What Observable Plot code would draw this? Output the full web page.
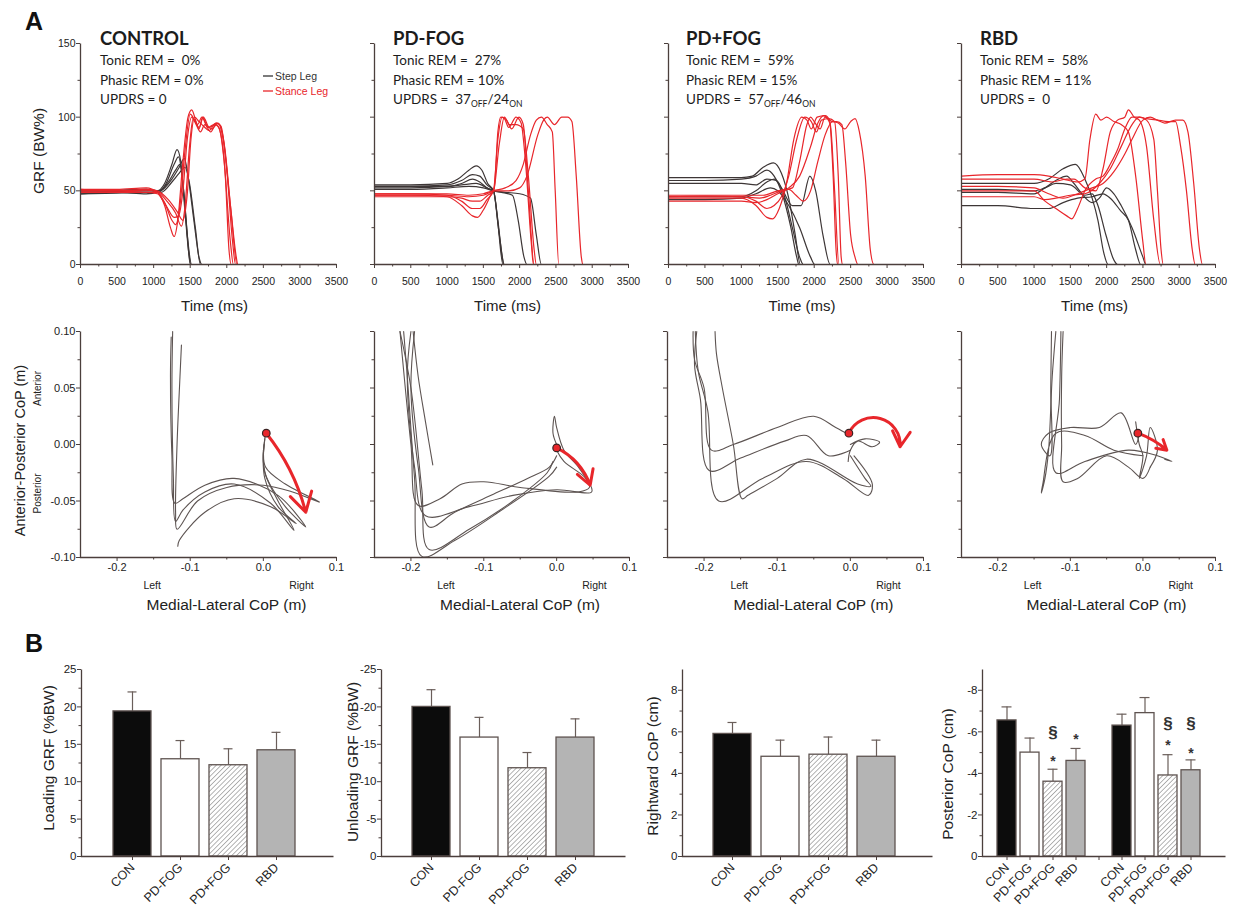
<!DOCTYPE html>
<html>
<head>
<meta charset="utf-8">
<script src="https://cdn.jsdelivr.net/npm/d3@7"></script>
<script src="https://cdn.jsdelivr.net/npm/@observablehq/plot@0.6"></script>
<style>
  body { margin: 0; background: #fff; }
  #fig { position: relative; width: 1236px; height: 913px; overflow: hidden; background: #fff; }
  #fig text, #fig tspan { white-space: pre; }
</style>
</head>
<body>
<svg width="0" height="0" style="position:absolute">
  <defs>
    <pattern id="hatch" patternUnits="userSpaceOnUse" width="3.4" height="3.4" patternTransform="rotate(45)">
      <rect width="3.4" height="3.4" fill="#ffffff"></rect>
      <line x1="0" y1="0" x2="0" y2="3.4" stroke="#6a6a6a" stroke-width="1"></line>
    </pattern>
  </defs>
</svg>
<div id="fig"></div>
<script>
// ---------- Panel A, top row: vertical ground reaction force traces (time ms, %BW) ----------
// each trace is a flat list of [t, value] pairs
const controlStep = [
  [0,49, 500,49.5, 900,50, 1050,50, 1150,55, 1250,68, 1320,78, 1370,70, 1430,35, 1480,8, 1510,0, 3500,0],
  [0,48, 500,48.5, 900,49, 1050,49, 1170,55, 1280,68, 1340,73, 1400,55, 1460,20, 1500,0, 3500,0],
  [0,50, 500,50, 900,51, 1080,50, 1200,56, 1300,64, 1360,68, 1420,45, 1470,15, 1520,0, 3500,0],
  [0,48, 500,49, 900,48, 1100,50, 1250,58, 1350,66, 1420,72, 1470,60, 1550,30, 1620,5, 1660,0, 3500,0],
  [0,50, 500,50.5, 900,51, 1100,49, 1250,56, 1350,62, 1430,66, 1490,55, 1570,25, 1640,0, 3500,0]
];
const controlStance = [
  [0,51, 500,51, 900,52, 1050,49, 1150,40, 1230,25, 1280,19, 1330,30, 1400,70, 1470,100, 1520,105, 1580,97, 1620,92, 1670,100, 1720,95, 1800,92, 1860,95, 1920,88, 1980,60, 2030,10, 2060,0, 3500,0],
  [0,50, 500,50, 900,50.5, 1050,49, 1150,42, 1250,30, 1300,27, 1360,40, 1430,78, 1500,102, 1560,98, 1620,93, 1680,100, 1760,93, 1840,95, 1900,92, 1960,72, 2050,15, 2090,0, 3500,0],
  [0,49, 500,49, 900,49, 1050,48, 1170,40, 1280,32, 1340,33, 1400,50, 1460,85, 1520,100, 1580,95, 1640,90, 1700,95, 1780,90, 1860,96, 1920,94, 1990,70, 2080,15, 2120,0, 3500,0],
  [0,50, 500,50, 900,49, 1050,49, 1180,43, 1300,35, 1380,26, 1430,40, 1490,80, 1540,99, 1600,95, 1660,100, 1740,93, 1820,95, 1880,96, 1950,85, 2050,40, 2130,5, 2150,0, 3500,0],
  [0,51, 500,50, 900,51, 1050,50, 1200,44, 1320,36, 1400,30, 1460,48, 1510,85, 1560,100, 1620,97, 1680,94, 1760,91, 1850,96, 1900,95, 1970,80, 2060,35, 2140,0, 3500,0]
];
const pdNoFogStep = [
  [0,54, 500,54, 1000,55, 1150,58, 1300,64, 1400,67, 1480,64, 1560,55, 1640,50, 1700,30, 1760,5, 1780,0, 3500,0],
  [0,53, 500,53, 1000,54, 1200,57, 1350,61, 1450,60, 1550,54, 1640,50, 1700,28, 1770,0, 3500,0],
  [0,52, 500,52, 1000,53, 1200,55, 1350,58, 1450,56, 1550,52, 1640,50, 1720,20, 1790,0, 3500,0],
  [0,53, 500,53, 1000,53, 1200,54, 1400,55, 1550,52, 1640,50, 1750,49, 1900,47, 1980,30, 2060,5, 2100,0, 3500,0],
  [0,51, 500,51, 1000,52, 1300,53, 1500,52, 1640,50, 1800,49, 2000,48, 2150,45, 2230,20, 2300,0, 3500,0]
];
const pdNoFogStance = [
  [0,47, 500,47, 1000,46, 1200,40, 1350,33, 1420,32, 1500,37, 1600,47, 1650,52, 1700,90, 1740,100, 1790,99, 1850,93, 1950,100, 2020,96, 2080,70, 2160,15, 2190,0, 3500,0],
  [0,48, 500,48, 1000,47, 1200,43, 1350,38, 1450,38, 1550,44, 1640,50, 1700,85, 1760,100, 1820,98, 1890,92, 1990,100, 2050,95, 2120,50, 2200,0, 3500,0],
  [0,46, 500,46, 1000,46, 1200,45, 1350,43, 1450,43, 1560,47, 1640,50, 1720,82, 1790,100, 1860,95, 1950,95, 2050,92, 2120,60, 2200,10, 2230,0, 3500,0],
  [0,47, 500,47, 1000,47, 1300,46, 1500,47, 1640,50, 1800,52, 1950,57, 2050,68, 2150,88, 2230,98, 2300,100, 2380,95, 2450,90, 2490,50, 2540,0, 3500,0],
  [0,48, 500,48, 1000,48, 1300,47, 1500,48, 1640,50, 1850,50, 2000,52, 2100,60, 2250,88, 2330,98, 2380,100, 2480,95, 2580,100, 2660,100, 2720,97, 2780,60, 2850,5, 2870,0, 3500,0]
];
const pdFogStep = [
  [0,59, 500,59, 1000,59, 1150,60, 1300,66, 1440,69, 1550,62, 1650,45, 1740,20, 1810,0, 3500,0],
  [0,57, 500,57, 1000,58, 1200,60, 1350,64, 1450,60, 1560,48, 1680,25, 1760,5, 1790,0, 3500,0],
  [0,55, 500,55, 1000,55, 1200,54, 1350,58, 1480,57, 1600,45, 1700,25, 1800,5, 1850,0, 3500,0],
  [0,46, 500,46, 1000,46, 1200,50, 1350,56, 1450,58, 1550,52, 1700,40, 1820,40, 1940,60, 2020,50, 2120,20, 2220,0, 3500,0],
  [0,44, 500,44, 1000,45, 1200,48, 1400,52, 1500,50, 1650,40, 1800,25, 1950,5, 2010,0, 3500,0]
];
const pdFogStance = [
  [0,45, 500,45, 1000,45, 1200,40, 1350,32, 1430,31, 1520,38, 1620,55, 1720,85, 1830,100, 1900,98, 1960,92, 2040,100, 2150,101, 2210,98, 2260,60, 2300,10, 2320,0, 3500,0],
  [0,46, 500,46, 1000,46, 1200,43, 1350,38, 1450,40, 1550,46, 1650,60, 1760,85, 1870,100, 1960,97, 2030,90, 2100,98, 2200,99, 2280,97, 2330,60, 2370,5, 2390,0, 3500,0],
  [0,43, 500,43, 1000,43, 1200,42, 1350,44, 1500,48, 1650,52, 1800,60, 1950,80, 2050,96, 2130,101, 2250,97, 2310,97, 2380,95, 2430,70, 2500,20, 2560,5, 2600,0, 3500,0],
  [0,47, 500,47, 1000,47, 1300,47, 1500,50, 1650,51, 1750,47, 1850,43, 1950,50, 2050,70, 2150,88, 2250,97, 2330,96, 2420,92, 2500,97, 2560,99, 2620,90, 2700,60, 2770,10, 2820,0, 3500,0],
  [0,46, 500,46.5, 1000,46, 1250,45, 1400,47, 1550,50, 1700,52, 1800,70, 1900,95, 1950,100, 2000,97, 2080,92, 2150,100, 2220,95, 2280,50, 2340,0, 3500,0]
];
const rbdStep = [
  [0,55, 500,55, 1000,55, 1200,58, 1400,65, 1570,68, 1700,58, 1800,45, 1880,30, 1960,8, 2020,0, 3500,0],
  [0,49, 500,49, 1000,48, 1150,52, 1300,57, 1450,60, 1550,55, 1700,47, 1800,48, 1880,40, 1990,20, 2100,3, 2150,0, 3500,0],
  [0,40, 500,40, 1000,38, 1200,38, 1400,42, 1600,45, 1800,46, 1950,48, 2050,45, 2200,36, 2300,30, 2400,10, 2470,0, 3500,0],
  [0,51, 500,51, 1000,50, 1150,52, 1300,55, 1500,54, 1650,48, 1800,42, 1900,45, 2000,52, 2100,48, 2200,40, 2350,25, 2500,5, 2540,0, 3500,0]
];
const rbdStance = [
  [0,60, 500,61, 1000,61, 1200,60, 1400,58, 1600,56, 1700,58, 1770,85, 1850,102, 1920,98, 2000,100, 2100,97, 2200,95, 2300,90, 2400,60, 2500,15, 2540,0, 3500,0],
  [0,58, 500,58, 1000,58, 1250,56, 1450,58, 1550,58, 1700,52, 1850,50, 1950,65, 2050,90, 2150,98, 2250,100, 2300,105, 2380,100, 2450,98, 2550,80, 2650,30, 2740,0, 3500,0],
  [0,50, 500,50, 1000,50, 1150,43, 1300,38, 1450,33, 1520,31, 1600,38, 1700,50, 1850,58, 1950,60, 2050,68, 2150,78, 2250,92, 2350,100, 2450,100, 2550,98, 2650,85, 2700,50, 2750,10, 2780,0, 3500,0],
  [0,46, 500,46, 1000,46, 1150,44, 1300,45, 1500,47, 1700,48, 1900,55, 2050,65, 2200,80, 2350,95, 2450,100, 2550,99, 2700,98, 2850,97, 2950,97, 3020,80, 3100,50, 3180,10, 3220,0, 3500,0],
  [0,53, 500,53, 1000,52, 1200,48, 1400,45, 1600,48, 1800,52, 1950,55, 2100,63, 2250,75, 2350,85, 2500,98, 2600,100, 2700,98, 2800,96, 2950,98, 3050,98, 3120,90, 3200,55, 3280,10, 3320,0, 3500,0]
];

// ---------- Panel A, middle row: centre-of-pressure paths (medial-lateral m, anterior-posterior m) ----------
const controlCop = [
  [0.003,0.010, 0.000,-0.010, 0.002,-0.025, 0.020,-0.050, 0.042,-0.076, 0.010,-0.052, -0.040,-0.035, -0.080,-0.042, -0.110,-0.058, -0.120,-0.068, -0.123,-0.030, -0.125,0.050, -0.124,0.100],
  [0.002,0.005, 0.000,-0.015, 0.005,-0.030, 0.030,-0.055, 0.058,-0.073, 0.020,-0.045, -0.040,-0.030, -0.080,-0.036, -0.110,-0.048, -0.121,-0.052, -0.125,-0.010, -0.127,0.060, -0.126,0.095],
  [0.001,0.000, 0.003,-0.020, 0.030,-0.035, 0.077,-0.051, 0.040,-0.042, 0.000,-0.036, -0.050,-0.038, -0.090,-0.050, -0.118,-0.075, -0.120,-0.060, -0.118,0.000, -0.114,0.060, -0.112,0.088],
  [0.000,-0.005, 0.002,-0.030, 0.020,-0.055, 0.045,-0.070, 0.010,-0.055, -0.040,-0.048, -0.080,-0.060, -0.115,-0.085, -0.117,-0.090]
];
const pdNoFogCop = [
  [0.000,0.000, -0.005,0.010, -0.003,0.025, 0.000,0.015, 0.010,-0.005, 0.030,-0.020, 0.045,-0.038, 0.030,-0.042, -0.050,-0.038, -0.100,-0.033, -0.130,-0.035, -0.160,-0.048, -0.190,-0.054, -0.200,0.000, -0.215,0.100],
  [0.000,-0.005, 0.010,-0.015, 0.040,-0.030, 0.048,-0.042, 0.000,-0.040, -0.060,-0.045, -0.120,-0.055, -0.180,-0.063, -0.195,-0.020, -0.205,0.060, -0.200,0.100],
  [0.000,-0.010, -0.010,-0.020, -0.040,-0.030, -0.090,-0.045, -0.140,-0.060, -0.175,-0.073, -0.190,-0.020, -0.200,0.050, -0.195,0.100],
  [-0.005,-0.015, -0.013,-0.025, -0.060,-0.050, -0.120,-0.075, -0.175,-0.093, -0.185,-0.040, -0.200,0.050, -0.215,0.100],
  [0.000,-0.020, -0.010,-0.028, -0.080,-0.060, -0.140,-0.085, -0.185,-0.099, -0.195,-0.030, -0.205,0.060, -0.210,0.100],
  [-0.197,0.100, -0.190,0.060, -0.180,0.020, -0.170,-0.018]
];
const pdFogCop = [
  [0.000,0.008, -0.020,0.015, -0.050,0.025, -0.100,0.015, -0.160,0.000, -0.190,-0.005, -0.200,0.050, -0.213,0.075, -0.215,0.100],
  [0.000,-0.005, -0.030,-0.010, -0.060,0.008, -0.090,0.003, -0.150,-0.012, -0.193,-0.023, -0.205,0.040, -0.213,0.070, -0.210,0.100],
  [0.005,-0.010, 0.030,-0.035, 0.025,-0.045, -0.010,-0.030, -0.060,-0.015, -0.120,-0.030, -0.180,-0.050, -0.195,0.030, -0.208,0.065, -0.212,0.100],
  [0.000,-0.010, 0.020,-0.030, 0.028,-0.037, 0.010,-0.035, -0.060,-0.013, -0.100,-0.030, -0.140,-0.045, -0.148,-0.048, -0.160,0.000, -0.175,0.050, -0.183,0.080, -0.185,0.100],
  [0.000,0.000, 0.020,0.005, 0.040,0.002, 0.030,-0.002, 0.010,0.003, 0.000,-0.005, -0.003,-0.015]
];
const rbdCop = [
  [-0.005,0.010, -0.010,0.000, -0.030,0.028, -0.060,0.015, -0.100,0.015, -0.130,0.010, -0.140,0.000, -0.128,-0.010, -0.127,0.050, -0.126,0.100],
  [0.000,-0.010, -0.040,-0.005, -0.080,0.008, -0.120,0.010, -0.138,-0.035, -0.140,-0.043, -0.135,-0.030, -0.130,-0.005, -0.125,0.060, -0.120,0.100],
  [0.010,-0.020, 0.000,-0.030, -0.020,-0.020, -0.050,-0.010, -0.090,-0.030, -0.110,-0.033, -0.112,0.000, -0.112,0.060, -0.110,0.100],
  [0.030,-0.013, 0.040,-0.015, 0.020,-0.010, -0.020,-0.005, -0.080,-0.015, -0.120,-0.025, -0.115,0.040, -0.113,0.100],
  [-0.010,0.020, -0.005,0.000, 0.000,-0.010, -0.005,-0.030, 0.005,-0.010, 0.010,0.015, 0.020,-0.005, 0.010,-0.020]
];
// initial CoP position and the direction of the first CoP shift
const copStart = [[0.004,0.010],[0.000,-0.003],[-0.002,0.010],[-0.007,0.010]];
const copShiftEnd = [[0.058,-0.060],[0.046,-0.036],[0.068,-0.002],[0.033,-0.005]];
const copShiftBend = [12, 22, 80, 10];

// ---------- Panel annotations ----------
const groupTitles = ["CONTROL", "PD-FOG", "PD+FOG", "RBD"];
const tonicREM = [0, 27, 59, 58];
const phasicREM = [0, 10, 15, 11];
const updrsOff = [0, 37, 57, 0];
const updrsOn = [null, 24, 46, null];

// ---------- Panel B: group means and standard errors ----------
const barGroups = ["CON", "PD-FOG", "PD+FOG", "RBD"];
const loadingMean = [19.4, 13.0, 12.2, 14.2];
const loadingErr = [2.6, 2.5, 2.2, 2.4];
const unloadingMean = [-20.0, -15.9, -11.8, -15.9];
const unloadingErr = [2.3, 2.7, 2.1, 2.5];
const rightwardMean = [5.9, 4.8, 4.9, 4.8];
const rightwardErr = [0.55, 0.8, 0.85, 0.8];
const posteriorMeanA = [-6.55, -5.0, -3.6, -4.6];
const posteriorErrA = [0.65, 0.7, 0.6, 0.6];
const posteriorMeanB = [-6.3, -6.9, -3.9, -4.15];
const posteriorErrB = [0.55, 0.75, 1.0, 0.5];
const posteriorMarks = [
  {set: "a", group: "PD+FOG", sym: "§", level: -5.95},
  {set: "a", group: "PD+FOG", sym: "*", level: -4.75},
  {set: "a", group: "RBD", sym: "*", level: -5.8},
  {set: "b", group: "PD+FOG", sym: "§", level: -6.4},
  {set: "b", group: "PD+FOG", sym: "*", level: -5.55},
  {set: "b", group: "RBD", sym: "§", level: -6.4},
  {set: "b", group: "RBD", sym: "*", level: -5.15}
];

// ---------- styling ----------
const W = 1236, H = 913;
const AXIS = "#4b3f3c";
const RED = "#e8262b";
const STEP = "#3d3636";
const COPC = "#5d5452";
const FONT = "'Liberation Sans', Arial, sans-serif";
const groupFill = {"CON": "#0c0c0c", "PD-FOG": "#ffffff", "PD+FOG": "url(#hatch)", "RBD": "#b4b4b4"};
const layerStyle = {position: "absolute", left: "0px", top: "0px", background: "transparent",
  overflow: "visible", fontFamily: FONT, fontSize: "10.5px", color: "#222"};

const grfFrames = [[80, 336], [374, 628], [668, 923], [961, 1215]];
const grfTop = 43, grfBottom = 264;
const copFrames = [[80, 336], [374, 629], [667, 923], [961, 1215]];
const copTop = 331, copBottom = 557;

const fig = document.getElementById("fig");

function pairs(traces, kx, ky) {
  return traces.flatMap((arr, k) => {
    const rows = [];
    for (let i = 0; i < arr.length; i += 2) rows.push({[kx]: arr[i], [ky]: arr[i + 1], trial: k});
    return rows;
  });
}

// left + bottom axis lines only
function axesFrame(x0, x1, y0, y1) {
  const w = x1 - x0, h = y1 - y0;
  return Plot.frame({stroke: AXIS, strokeWidth: 1.3, strokeDasharray: `0,${w + h},${w + h}`});
}

const blank = () => "";

// ----- GRF panels -----
const grfStep = [controlStep, pdNoFogStep, pdFogStep, rbdStep];
const grfStance = [controlStance, pdNoFogStance, pdFogStance, rbdStance];
const timeTicks = [0, 500, 1000, 1500, 2000, 2500, 3000, 3500];
const timeMinor = [250, 750, 1250, 1750, 2250, 2750, 3250];
const grfTicks = [0, 50, 100, 150];
const grfMinor = [25, 75, 125];

grfFrames.forEach(([x0, x1], k) => {
  const marks = [
    Plot.line(pairs(grfStep[k], "t", "v"), {x: "t", y: "v", z: "trial", stroke: STEP, strokeWidth: 1.2, curve: "monotone-x"}),
    Plot.line(pairs(grfStance[k], "t", "v"), {x: "t", y: "v", z: "trial", stroke: RED, strokeWidth: 1.2, curve: "monotone-x"}),
    axesFrame(x0, x1, grfTop, grfBottom),
    Plot.axisX({ticks: timeTicks, tickSize: 4, tickPadding: 9, fontSize: 10.5, stroke: AXIS, label: null, tickFormat: d => String(d)}),
    Plot.axisX({ticks: timeMinor, tickSize: 2.5, stroke: AXIS, label: null, tickFormat: blank}),
    Plot.axisY({ticks: grfTicks, tickSize: 4, tickPadding: 1, fontSize: 10.5, stroke: AXIS, label: null, tickFormat: k === 0 ? d => String(d) : blank}),
    Plot.axisY({ticks: grfMinor, tickSize: 2.5, stroke: AXIS, label: null, tickFormat: blank}),
    Plot.text(["Time (ms)"], {text: d => d, frameAnchor: "bottom", dx: 6, dy: 42, fontSize: 15, textAnchor: "middle", lineAnchor: "middle"})
  ];
  if (k === 0) marks.push(Plot.text(["GRF (BW%)"], {text: d => d, frameAnchor: "left", dx: -41, dy: -3, rotate: -90, fontSize: 15.5, textAnchor: "middle", lineAnchor: "middle"}));
  fig.append(Plot.plot({
    width: W, height: H, style: layerStyle,
    marginLeft: x0, marginRight: W - x1, marginTop: grfTop, marginBottom: H - grfBottom,
    x: {domain: [0, 3500], label: null},
    y: {domain: [0, 150], label: null},
    marks
  }));
});

// ----- CoP panels -----
const copTraces = [controlCop, pdNoFogCop, pdFogCop, rbdCop];
const mlTicks = [-0.2, -0.1, 0, 0.1];
const mlMinor = [-0.15, -0.05, 0.05];
const apTicks = [-0.1, -0.05, 0, 0.05, 0.1];
const apMinor = [-0.075, -0.025, 0.025, 0.075];
const sideLabels = [{x: -0.152, side: "Left"}, {x: 0.052, side: "Right"}];

copFrames.forEach(([x0, x1], k) => {
  const marks = [
    Plot.line(pairs(copTraces[k], "ml", "ap"), {x: "ml", y: "ap", z: "trial", stroke: COPC, strokeWidth: 1.1, curve: "catmull-rom"}),
    Plot.arrow([{s: copStart[k], e: copShiftEnd[k]}], {
      x1: d => d.s[0], y1: d => d.s[1], x2: d => d.e[0], y2: d => d.e[1],
      bend: copShiftBend[k], stroke: RED, strokeWidth: 3, headLength: 11, headAngle: 60
    }),
    Plot.dot([copStart[k]], {x: d => d[0], y: d => d[1], r: 3.8, fill: RED, stroke: "#3a2222", strokeWidth: 1.2}),
    axesFrame(x0, x1, copTop, copBottom),
    Plot.axisX({ticks: mlTicks, tickSize: 4, tickPadding: 2, fontSize: 11, stroke: AXIS, label: null, tickFormat: d => d.toFixed(1)}),
    Plot.axisX({ticks: mlMinor, tickSize: 2.5, stroke: AXIS, label: null, tickFormat: blank}),
    Plot.axisY({ticks: apTicks, tickSize: 4, tickPadding: 1, fontSize: 11, stroke: AXIS, label: null, tickFormat: k === 0 ? d => d.toFixed(2) : blank}),
    Plot.axisY({ticks: apMinor, tickSize: 2.5, stroke: AXIS, label: null, tickFormat: blank}),
    Plot.text(sideLabels, {x: "x", text: "side", frameAnchor: "bottom", dy: 28, fontSize: 10.5, textAnchor: "middle", lineAnchor: "middle"}),
    Plot.text(["Medial-Lateral CoP (m)"], {text: d => d, frameAnchor: "bottom", dx: 18, dy: 48, fontSize: 15.5, textAnchor: "middle", lineAnchor: "middle"})
  ];
  if (k === 0) {
    marks.push(
      Plot.text(["Anterior-Posterior CoP (m)"], {text: d => d, frameAnchor: "left", dx: -60, dy: 6, rotate: -90, fontSize: 14.5, textAnchor: "middle", lineAnchor: "middle"}),
      Plot.text(["Anterior"], {text: d => d, frameAnchor: "left", dx: -43, dy: -56, rotate: -90, fontSize: 10, textAnchor: "middle", lineAnchor: "middle"}),
      Plot.text(["Posterior"], {text: d => d, frameAnchor: "left", dx: -43, dy: 49, rotate: -90, fontSize: 10, textAnchor: "middle", lineAnchor: "middle"})
    );
  }
  fig.append(Plot.plot({
    width: W, height: H, style: layerStyle,
    marginLeft: x0, marginRight: W - x1, marginTop: copTop, marginBottom: H - copBottom,
    x: {domain: [-0.25, 0.1], label: null},
    y: {domain: [-0.1, 0.1], label: null},
    marks
  }));
});

// ----- bar panels -----
function barRows(means, errs, set) {
  return barGroups.map((g, i) => ({key: set ? `${g}|${set}` : g, group: g, mean: means[i], err: errs[i],
    top: means[i] + Math.sign(means[i]) * errs[i]}));
}

function barPanel(cfg) {
  const {frame: [x0, x1], range, domain, rows, yDomain, yTicks, yMinor, label, ldx, ldy, capInset, padding, extra = []} = cfg;
  const bTop = 669, bBottom = 856;
  return Plot.plot({
    width: W, height: H, style: layerStyle,
    marginLeft: x0, marginRight: W - x1, marginTop: bTop, marginBottom: H - bBottom,
    x: {type: "band", domain, range, paddingInner: padding, paddingOuter: 0, label: null},
    y: {domain: yDomain, label: null},
    color: {type: "identity"},
    marks: [
      Plot.ruleX(rows, {x: "key", y1: "mean", y2: "top", stroke: "#6a5e5a", strokeWidth: 1.2}),
      Plot.tickY(rows, {x: "key", y: "top", stroke: "#6a5e5a", strokeWidth: 1.2, insetLeft: capInset, insetRight: capInset}),
      Plot.barY(rows, {x: "key", y: "mean", fill: d => groupFill[d.group], stroke: "#5e5350", strokeWidth: 1.3}),
      ...extra,
      axesFrame(x0, x1, bTop, bBottom),
      Plot.axisX({ticks: domain, tickSize: 4, tickPadding: 5, tickRotate: -45, fontSize: 12.5, stroke: AXIS, label: null,
        tickFormat: d => d.startsWith("gap") ? "" : d.split("|")[0]}),
      Plot.axisY({ticks: yTicks, tickSize: 4, tickPadding: 1, fontSize: 11.5, stroke: AXIS, label: null, tickFormat: d => String(d)}),
      Plot.axisY({ticks: yMinor, tickSize: 2.5, stroke: AXIS, label: null, tickFormat: blank}),
      Plot.text([label], {text: d => d, frameAnchor: "left", dx: ldx, dy: ldy, rotate: -90, fontSize: 15.5, textAnchor: "middle", lineAnchor: "middle"})
    ]
  });
}

fig.append(barPanel({
  frame: [81, 333], range: [112, 297], domain: barGroups, padding: 0.2, capInset: 14.5,
  rows: barRows(loadingMean, loadingErr),
  yDomain: [0, 25], yTicks: [0, 5, 10, 15, 20, 25], yMinor: [2.5, 7.5, 12.5, 17.5, 22.5],
  label: "Loading GRF (%BW)", ldx: -32, ldy: -5
}));
fig.append(barPanel({
  frame: [381, 625], range: [411, 596], domain: barGroups, padding: 0.2, capInset: 14.5,
  rows: barRows(unloadingMean, unloadingErr),
  yDomain: [0, -25], yTicks: [0, -5, -10, -15, -20, -25], yMinor: [-2.5, -7.5, -12.5, -17.5, -22.5],
  label: "Unloading GRF (%BW)", ldx: -28, ldy: -1
}));
fig.append(barPanel({
  frame: [682, 932], range: [712, 897], domain: barGroups, padding: 0.2, capInset: 14.5,
  rows: barRows(rightwardMean, rightwardErr),
  yDomain: [0, 9], yTicks: [0, 2, 4, 6, 8], yMinor: [1, 3, 5, 7],
  label: "Rightward CoP (cm)", ldx: -29, ldy: 3
}));
const posteriorRows = [...barRows(posteriorMeanA, posteriorErrA, "a"), ...barRows(posteriorMeanB, posteriorErrB, "b")];
const posteriorDomain = [...barGroups.map(g => `${g}|a`), "gap", ...barGroups.map(g => `${g}|b`)];
fig.append(barPanel({
  frame: [982, 1225], range: [996, 1201], domain: posteriorDomain, padding: 0.18, capInset: 4.5,
  rows: posteriorRows,
  yDomain: [0, -9], yTicks: [0, -2, -4, -6, -8], yMinor: [-1, -3, -5, -7],
  label: "Posterior CoP (cm)", ldx: -34, ldy: 11,
  extra: [
    Plot.text(posteriorMarks.filter(d => d.sym === "§"), {x: d => `${d.group}|${d.set}`, y: "level", text: "sym", fontSize: 17, fontWeight: "bold", fill: "#333"}),
    Plot.text(posteriorMarks.filter(d => d.sym === "*"), {x: d => `${d.group}|${d.set}`, y: "level", text: "sym", fontSize: 14, dy: 4, fontWeight: "bold", fill: "#333"})
  ]
}));

// ----- group descriptions, legend and panel letters -----
const ov = d3.select(fig).append("svg")
  .attr("width", W).attr("height", H)
  .style("position", "absolute").style("left", "0px").style("top", "0px");

const infoX = [100, 393, 686, 980];
const infoFont = "Lato, 'Open Sans', sans-serif";
groupTitles.forEach((title, k) => {
  const g = ov.append("g").attr("font-family", infoFont).attr("fill", "#1c1c1c");
  g.append("text").attr("x", infoX[k]).attr("y", 45).attr("font-size", 18.5).attr("font-weight", "bold").text(title);
  g.append("text").attr("x", infoX[k]).attr("y", 65).attr("font-size", 13.5).text(`Tonic REM =  ${tonicREM[k]}%`);
  g.append("text").attr("x", infoX[k]).attr("y", 85).attr("font-size", 13.5).text(`Phasic REM = ${phasicREM[k]}%`);
  const u = g.append("text").attr("x", infoX[k]).attr("y", 104).attr("font-size", 13.5);
  if (updrsOn[k] == null) {
    u.text(k === 0 ? `UPDRS = ${updrsOff[k]}` : `UPDRS =  ${updrsOff[k]}`);
  } else {
    u.append("tspan").text(`UPDRS =  ${updrsOff[k]}`);
    u.append("tspan").attr("dy", 3).attr("font-size", 8.5).text("OFF");
    u.append("tspan").attr("dy", -3).text(`/${updrsOn[k]}`);
    u.append("tspan").attr("dy", 3).attr("font-size", 8.5).text("ON");
  }
});

const legend = [{name: "Step Leg", color: "#333"}, {name: "Stance Leg", color: RED}];
legend.forEach((d, i) => {
  const y = 76 + i * 15;
  ov.append("line").attr("x1", 263).attr("x2", 273).attr("y1", y).attr("y2", y).attr("stroke", d.color).attr("stroke-width", 1.3);
  ov.append("text").attr("x", 275).attr("y", y + 3.5).attr("font-family", FONT).attr("font-size", 10.5)
    .attr("fill", i === 0 ? "#333" : RED).text(d.name);
});

[["A", 25, 30], ["B", 25, 652]].forEach(([t, x, y]) => {
  ov.append("text").attr("x", x).attr("y", y).attr("font-family", FONT).attr("font-size", 25)
    .attr("font-weight", "bold").attr("fill", "#111").text(t);
});
</script>
</body>
</html>
